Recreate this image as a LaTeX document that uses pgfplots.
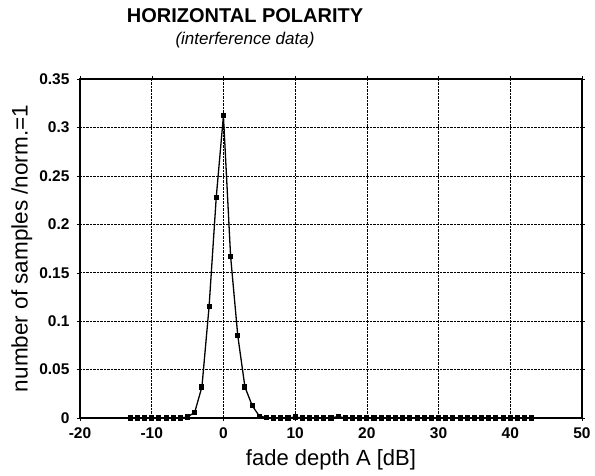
\documentclass[border=0pt]{standalone}
\usepackage{pgfplots}
\pgfplotsset{compat=1.18}
\usepackage{fontspec}
\setmainfont{Liberation Sans}
\begin{document}
\begin{tikzpicture}
\path[use as bounding box] (-80pt,-58pt) rectangle (515pt,418pt);
\begin{axis}[at={(0,0)}, anchor=south west, scale only axis,
  width=502pt, height=339pt,
  xmin=-20, xmax=50, ymin=0, ymax=0.35,
  xtick={-20,-10,...,50}, ytick={0,0.05,0.1,0.15,0.2,0.25,0.3,0.35},
  grid=major, grid style={black, densely dotted, line width=0.6pt},
  axis line style={black, line width=1.1pt},
  tick style={black}, tick align=outside, major tick length=3pt,
  ticklabel style={font=\fontsize{15.5}{15.5}\selectfont\bfseries},
  xticklabel style={yshift=-3pt},
  yticklabel style={xshift=-4pt, /pgf/number format/fixed, /pgf/number format/precision=2},
  /pgf/number format/assume math mode=true,
  scaled y ticks=false,
  xlabel={fade depth A [dB]}, ylabel={number of samples /norm.=1},
  xlabel style={font=\fontsize{22}{22}\selectfont, at={(axis description cs:0.5,0)}, anchor=base, yshift=-48pt},
  ylabel style={font=\fontsize{22.5}{22.5}\selectfont, at={(axis description cs:-0.116,0.5)}, anchor=center},
  clip=false,
]
\addplot[black, line width=1.3pt, mark=square*, mark size=1.9pt] coordinates {
(-13,0) (-12,0) (-11,0) (-10,0) (-9,0) (-8,0) (-7,0) (-6,0) (-5,0.001)
(-4,0.006) (-3,0.032) (-2,0.115) (-1,0.228) (0,0.312) (1,0.167) (2,0.085)
(3,0.032) (4,0.013) (5,0.002) (6,0.0005) (7,0) (8,0) (9,0) (10,0.001)
(11,0) (12,0) (13,0) (14,0) (15,0) (16,0.0015) (17,0) (18,0) (19,0) (20,0)
(21,0) (22,0) (23,0) (24,0) (25,0) (26,0) (27,0) (28,0) (29,0) (30,0)
(31,0) (32,0) (33,0) (34,0) (35,0) (36,0) (37,0) (38,0) (39,0) (40,0)
(41,0) (42,0) (43,0)
};
\end{axis}
\node[anchor=base, font=\fontsize{20}{20}\selectfont\bfseries] at (165pt,395pt) {HORIZONTAL POLARITY};
\node[anchor=base, font=\fontsize{17}{17}\selectfont\itshape] at (165pt,373pt) {(interference data)};
\end{tikzpicture}
\end{document}
